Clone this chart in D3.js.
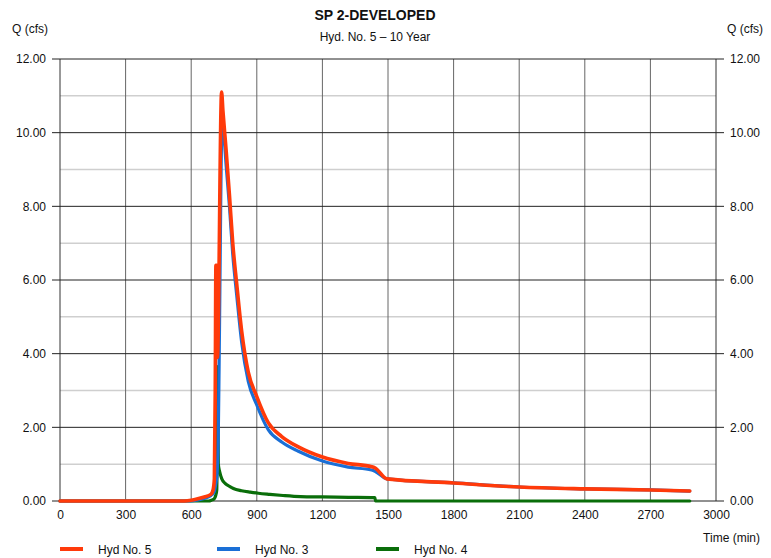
<!DOCTYPE html>
<html><head><meta charset="utf-8">
<script src="https://cdn.jsdelivr.net/npm/d3@7"></script>
<style>
html,body{margin:0;padding:0;background:#fff;}
svg text{font-family:"Liberation Sans",Arial,sans-serif;fill:#111;}
</style></head>
<body><svg id="c" width="771" height="558"></svg>
<script>
const xTicks = [0,300,600,900,1200,1500,1800,2100,2400,2700,3000];
const yMajor = [0,2,4,6,8,10,12];
const yMinor = [1,3,5,7,9,11];

const timeHyd5 = [0,570,600,630,660,690,700,706,710,713,717,720,739,745,760,775,790,808,831,861,899,953,1014,1090,1197,1318,1425,1440,1495,1800,2100,2400,2700,2880];
const hyd5     = [0,0,0.02,0.06,0.11,0.18,0.3,0.6,3.0,6.4,6.4,3.9,11.1,10.6,9.5,8.3,7.0,5.9,4.6,3.5,2.85,2.12,1.75,1.47,1.2,1.02,0.93,0.9,0.6,0.49,0.38,0.33,0.30,0.27];

const timeHyd3 = [0,600,630,660,690,705,712,718,722,742,750,760,775,790,808,831,861,899,953,1014,1090,1197,1318,1425,1440,1495,1800,2100,2400,2700,2880];
const hyd3     = [0,0,0.03,0.07,0.15,0.25,0.45,0.7,1.3,10.34,9.9,9.1,8.0,6.7,5.6,4.3,3.25,2.62,1.93,1.6,1.35,1.09,0.92,0.84,0.81,0.6,0.49,0.38,0.33,0.30,0.27];

const timeHyd4 = [0,680,695,705,712,717,721,724,730,740,755,775,793,830,870,907,960,1020,1100,1200,1320,1440,1443,2880];
const hyd4     = [0,0,0.03,0.06,0.15,0.3,3.65,1.0,0.8,0.6,0.48,0.4,0.34,0.28,0.24,0.21,0.18,0.15,0.12,0.11,0.10,0.09,0,0];

const seriesNames = ["Hyd No. 5","Hyd No. 3","Hyd No. 4"];
const seriesColors = ["#ff3a0a","#1a6fd6","#0a6e0a"];

const svg = d3.select("#c");
const L=60,R=716,T=59,B=501;
const x = d3.scaleLinear().domain([0,3000]).range([L,R]);
const y = d3.scaleLinear().domain([0,12]).range([B,T]);

svg.append("g").selectAll("line").data(yMinor).join("line")
  .attr("x1",L).attr("x2",R).attr("y1",d=>y(d)).attr("y2",d=>y(d))
  .attr("stroke","#cfcfcf").attr("stroke-width",1.5);
svg.append("g").selectAll("line").data(xTicks).join("line")
  .attr("x1",d=>x(d)).attr("x2",d=>x(d)).attr("y1",T).attr("y2",B)
  .attr("stroke",(d,i)=> (i==0||i==xTicks.length-1)?"#333":"#666").attr("stroke-width",1);
svg.append("g").selectAll("line").data(yMajor).join("line")
  .attr("x1",L-8).attr("x2",R+8).attr("y1",d=>y(d)).attr("y2",d=>y(d))
  .attr("stroke","#222").attr("stroke-width",1);

const fmt = d3.format(".2f");
const la = svg.append("g").attr("transform",`translate(${L-10},0)`)
  .call(d3.axisLeft(y).tickValues(yMajor).tickFormat(fmt).tickSize(0).tickPadding(4));
const ra = svg.append("g").attr("transform",`translate(${R+10},0)`)
  .call(d3.axisRight(y).tickValues(yMajor).tickFormat(fmt).tickSize(0).tickPadding(4));
const ba = svg.append("g").attr("transform",`translate(0,${B+4})`)
  .call(d3.axisBottom(x).tickValues(xTicks).tickFormat(d3.format("d")).tickSize(0).tickPadding(5));
[la,ra,ba].forEach(g=>{g.select(".domain").remove();g.selectAll("text").attr("font-size",12).attr("fill","#111").attr("font-family","Liberation Sans, Arial, sans-serif");});

const line = d3.line().x(d=>x(d[0])).y(d=>y(d[1])).curve(d3.curveMonotoneX);
const data = [
  {t:timeHyd4,v:hyd4,c:seriesColors[2],w:3.2},
  {t:timeHyd3,v:hyd3,c:seriesColors[1],w:3.2},
  {t:timeHyd5,v:hyd5,c:seriesColors[0],w:3.6}
];
data.forEach(s=>{
  svg.append("path").attr("d",line(s.t.map((t,i)=>[t,s.v[i]])))
    .attr("fill","none").attr("stroke",s.c).attr("stroke-width",s.w)
    .attr("stroke-linejoin","round").attr("stroke-linecap","round");
});

svg.append("text").attr("x",375).attr("y",20).attr("text-anchor","middle")
  .attr("font-size",14).attr("font-weight","bold").text("SP 2-DEVELOPED");
svg.append("text").attr("x",375).attr("y",41).attr("text-anchor","middle")
  .attr("font-size",12).text("Hyd. No. 5 \u2013 10 Year");
svg.append("text").attr("x",12).attr("y",33).attr("font-size",12).text("Q (cfs)");
svg.append("text").attr("x",727).attr("y",33).attr("font-size",12).text("Q (cfs)");
svg.append("text").attr("x",760).attr("y",542).attr("text-anchor","end").attr("font-size",12).text("Time (min)");

const legX=[60,217,376];
seriesNames.forEach((n,i)=>{
  const g=svg.append("g");
  g.append("line").attr("x1",legX[i]).attr("x2",legX[i]+23).attr("y1",549).attr("y2",549)
    .attr("stroke",seriesColors[i]).attr("stroke-width",4);
  g.append("text").attr("x",legX[i]+38).attr("y",553.5).attr("font-size",12).text(n);
});
</script></body></html>
